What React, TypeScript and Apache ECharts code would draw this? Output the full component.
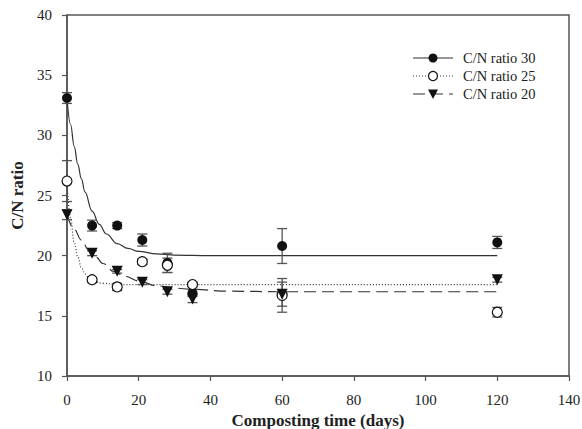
import React, { useEffect, useRef } from 'react';
import * as echarts from 'echarts';

// Measured points
const days = [0, 7, 14, 21, 28, 35, 60, 120];
const cn30 = [33.1, 22.5, 22.5, 21.3, 19.4, 16.9, 20.8, 21.1];
const cn30Err = [0.45, 0.45, 0.25, 0.5, 0.8, 0.3, 1.45, 0.5];
const cn25 = [26.2, 18.0, 17.4, 19.5, 19.2, 17.6, 16.7, 15.3];
const cn25Err = [1.7, 0.15, 0.3, 0.2, 0.6, 0.2, 1.4, 0.4];
const cn20 = [23.4, 20.2, 18.7, 17.8, 17.0, 16.4, 16.8, 18.0];
const cn20Err = [0.4, 0.2, 0.15, 0.2, 0.2, 0.3, 1.0, 0.2];

// Fitted curves
const fit30Days = [0, 1, 2, 3, 4, 5, 7, 9, 11, 14, 17, 20, 25, 30, 40, 120];
const fit30Vals = [33.1, 30.9, 29.1, 27.6, 26.4, 25.3, 23.7, 22.6, 21.8, 21.0, 20.6, 20.35, 20.15, 20.05, 20.0, 20.0];
const fit25Days = [0, 1, 2, 3, 4, 5, 6, 8, 10, 14, 120];
const fit25Vals = [26.2, 23.1, 21.1, 19.9, 19.0, 18.5, 18.2, 17.8, 17.7, 17.6, 17.6];
const fit20Days = [0, 2, 4, 6, 8, 10, 13, 16, 20, 25, 30, 35, 45, 60, 120];
const fit20Vals = [23.4, 22.2, 21.3, 20.5, 19.9, 19.35, 18.7, 18.3, 17.9, 17.5, 17.3, 17.2, 17.05, 17.0, 17.0];

const seriesNames = ['C/N ratio 30', 'C/N ratio 25', 'C/N ratio 20'];
const xTitle = 'Composting time (days)';
const yTitle = 'C/N ratio';

const FONT = '"Liberation Serif", "Times New Roman", serif';
const LINE = '#333';
const BAR = '#555';
const AXIS = '#555';

function pairs(xs: number[], ys: number[]) {
  return xs.map((x, i) => [x, ys[i]]);
}
function errData(vals: number[], errs: number[]) {
  return days.map((d, i) => [d, vals[i] - errs[i], vals[i] + errs[i]]);
}

function errorSeries(vals: number[], errs: number[]) {
  return {
    type: 'custom',
    data: errData(vals, errs),
    encode: { x: 0, y: [1, 2] },
    z: 3,
    renderItem: (params: any, api: any) => {
      const x = api.value(0);
      const lo = api.coord([x, api.value(1)]);
      const hi = api.coord([x, api.value(2)]);
      const w = 5;
      const st = { stroke: BAR, lineWidth: 1.3 };
      return {
        type: 'group',
        children: [
          { type: 'line', shape: { x1: lo[0], y1: lo[1], x2: hi[0], y2: hi[1] }, style: st },
          { type: 'line', shape: { x1: lo[0] - w, y1: lo[1], x2: lo[0] + w, y2: lo[1] }, style: st },
          { type: 'line', shape: { x1: hi[0] - w, y1: hi[1], x2: hi[0] + w, y2: hi[1] }, style: st },
        ],
      };
    },
  };
}

export default function App() {
  const ref = useRef<HTMLDivElement>(null);
  useEffect(() => {
    if (!ref.current) return;
    const chart = echarts.init(ref.current, null, { renderer: 'svg' });
    const axisCommon = {
      type: 'value',
      nameLocation: 'middle',
      nameTextStyle: { fontFamily: FONT, fontSize: 17, fontWeight: 'bold', color: '#222' },
      axisLine: { show: true, onZero: false, lineStyle: { color: AXIS, width: 1.5 } },
      axisTick: { show: true, inside: false, length: 5, lineStyle: { color: AXIS, width: 1.2 } },
      splitLine: { show: false },
      axisLabel: { fontFamily: FONT, fontSize: 15, color: '#222' },
    };
    const lx1 = 413, lx2 = 453, lmx = 433, ltx = 463;
    const rows = [58, 76, 94];
    const legendGraphics: any[] = [
      { type: 'line', shape: { x1: lx1, y1: rows[0], x2: lx2, y2: rows[0] }, style: { stroke: LINE, lineWidth: 1.2 } },
      { type: 'circle', shape: { cx: lmx, cy: rows[0], r: 4.5 }, style: { fill: '#111' } },
      { type: 'line', shape: { x1: lx1, y1: rows[1], x2: lx2, y2: rows[1] }, style: { stroke: LINE, lineWidth: 1.2, lineDash: [1, 2] } },
      { type: 'circle', shape: { cx: lmx, cy: rows[1], r: 4.5 }, style: { fill: '#fff', stroke: '#111', lineWidth: 1.2 } },
      { type: 'line', shape: { x1: lx1, y1: rows[2], x2: lx2, y2: rows[2] }, style: { stroke: LINE, lineWidth: 1.2, lineDash: [12, 6] } },
      { type: 'polygon', shape: { points: [[lmx - 5, rows[2] - 4.5], [lmx + 5, rows[2] - 4.5], [lmx, rows[2] + 5]] }, style: { fill: '#111' } },
    ];
    seriesNames.forEach((n, i) => {
      legendGraphics.push({
        type: 'text', x: ltx, y: rows[i],
        style: { text: n, fontFamily: FONT, fontSize: 14.5, fill: '#222', verticalAlign: 'middle', align: 'left' },
      });
    });

    chart.setOption({
      animation: false,
      backgroundColor: '#fff',
      grid: {
        left: 67, right: 13, top: 15, bottom: 53,
        show: true, borderColor: AXIS, borderWidth: 1.5,
        containLabel: false, outerBoundsMode: 'none',
      },
      xAxis: {
        ...axisCommon, min: 0, max: 140, interval: 20, name: xTitle, nameGap: 34,
        axisLabel: { ...axisCommon.axisLabel, margin: 16 },
      },
      yAxis: {
        ...axisCommon, min: 10, max: 40, interval: 5, name: yTitle, nameGap: 41,
        axisLabel: { ...axisCommon.axisLabel, margin: 15 },
      },
      graphic: legendGraphics,
      series: [
        { type: 'line', data: pairs(fit30Days, fit30Vals), smooth: 0.4, smoothMonotone: 'x', showSymbol: false, symbol: 'none', lineStyle: { color: LINE, width: 1.2 }, z: 2 },
        { type: 'line', data: pairs(fit25Days, fit25Vals), smooth: 0.4, smoothMonotone: 'x', showSymbol: false, symbol: 'none', lineStyle: { color: LINE, width: 1.2, type: [1, 2] }, z: 2 },
        { type: 'line', data: pairs(fit20Days, fit20Vals), smooth: 0.4, smoothMonotone: 'x', showSymbol: false, symbol: 'none', lineStyle: { color: LINE, width: 1.2, type: [12, 6] }, z: 2 },
        errorSeries(cn30, cn30Err),
        errorSeries(cn25, cn25Err),
        errorSeries(cn20, cn20Err),
        { name: seriesNames[0], type: 'scatter', data: pairs(days, cn30), symbol: 'circle', symbolSize: 10, itemStyle: { color: '#111', opacity: 1 }, z: 5 },
        { name: seriesNames[1], type: 'scatter', data: pairs(days, cn25), symbol: 'circle', symbolSize: 10, itemStyle: { color: '#fff', borderColor: '#111', borderWidth: 1.2, opacity: 1 }, z: 5 },
        { name: seriesNames[2], type: 'scatter', data: pairs(days, cn20), symbol: 'triangle', symbolRotate: 180, symbolSize: 11, itemStyle: { color: '#111', opacity: 1 }, z: 5 },
      ],
    });
    return () => chart.dispose();
  }, []);
  return <div ref={ref} style={{ position: 'fixed', left: 0, top: 0, width: 582, height: 429 }} />;
}
